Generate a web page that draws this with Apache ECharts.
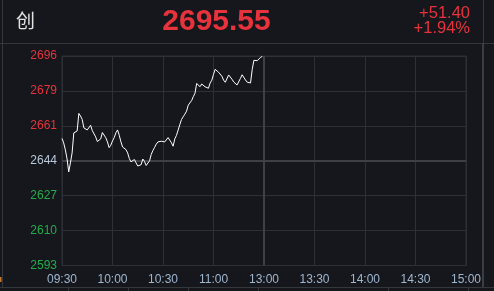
<!DOCTYPE html>
<html><head><meta charset="utf-8">
<script src="https://cdn.jsdelivr.net/npm/echarts@6/dist/echarts.min.js"></script>
<style>html,body{margin:0;padding:0;background:#15171c;}#c{width:494px;height:291px;}</style>
</head><body><div id="c"></div>
<script>
// ---- data ----
var indexName = '创';
var lastPrice = '2695.55';
var changeText = '+51.40';
var changePctText = '+1.94%';
var preClose = 2644.15;
var yMin = 2592.55;
var yMax = 2695.75;
var yTickLabels = ['2593', '2610', '2627', '2644', '2661', '2679', '2696'];
var xTickLabels = ['09:30', '10:00', '10:30', '11:00', '13:00', '13:30', '14:00', '14:30', '15:00'];
var totalMinutes = 240;
// minute-by-minute price from 09:30
var prices = [
  2655.15, 2652.94, 2649.49, 2645.06, 2638.67, 2643.10, 2648.02, 2657.86, 2657.71, 2658.84,
  2667.45, 2666.22, 2664.50, 2660.32, 2661.06, 2659.33, 2659.83, 2661.65, 2658.99, 2659.33,
  2655.89, 2653.63, 2654.22, 2654.91, 2658.05, 2657.61, 2655.50, 2653.43, 2650.62, 2651.81,
  2653.92, 2655.55, 2657.86, 2659.33, 2656.73, 2653.48, 2650.92, 2649.94, 2649.64, 2648.02,
  2645.21, 2643.59, 2644.23, 2644.77, 2643.10, 2641.57, 2640.93, 2642.21, 2645.01, 2643.83,
  2641.82, 2641.87, 2644.13, 2647.23, 2649.20, 2650.72, 2652.35, 2653.43, 2654.22, 2653.77,
  2652.94, 2653.43, 2654.27, 2655.55, 2654.61, 2653.04, 2651.31, 2654.91, 2656.63, 2659.28,
  2661.99, 2664.50, 2665.83, 2667.11, 2668.59, 2671.54, 2672.33, 2673.80, 2675.72, 2677.39,
  2682.22, 2682.46, 2680.64, 2681.97, 2681.13, 2680.59, 2679.81, 2679.86, 2682.46, 2683.84,
  2686.70, 2689.21, 2688.96, 2687.73, 2687.19, 2685.76, 2683.84, 2682.81, 2682.46, 2686.40,
  2686.74, 2684.28, 2682.96, 2682.96, 2681.48, 2682.36, 2684.73, 2686.50, 2686.60, 2683.94,
  2682.86, 2682.02, 2682.46, 2689.11, 2693.63, 2692.75, 2693.44, 2694.03, 2695.11, 2695.55
];
// ---- chart ----
var RED = '#e8323c', GREEN = '#1fae4a', NEUTRAL = '#b9c8da', AXISTXT = '#9fb6cf';
var GRIDC = '#2d3035', FRAME = '#34373c';
var chart = echarts.init(document.getElementById('c'), null, {renderer: 'canvas'});
var lineData = prices.map(function (p, i) { return [i, p]; });
chart.setOption({
  backgroundColor: '#15171c',
  animation: false,
  grid: {left: 62, top: 56, right: 28, bottom: 25.5, show: true, borderColor: GRIDC, borderWidth: 1, backgroundColor: 'transparent'},
  xAxis: {
    type: 'value', min: 0, max: totalMinutes, interval: 30,
    axisLine: {show: false}, axisTick: {show: false},
    splitLine: {show: true, lineStyle: {color: GRIDC, width: 1}},
    axisLabel: {
      margin: 8, color: AXISTXT, fontFamily: 'Liberation Sans', fontSize: 12,
      formatter: function (v) { return xTickLabels[Math.round(v / 30)]; }
    }
  },
  yAxis: [{
    type: 'value', min: yMin, max: yMax, show: false, splitLine: {show: false}
  }, {
    type: 'category', data: yTickLabels, boundaryGap: false, position: 'left',
    axisLine: {show: false}, axisTick: {show: false},
    splitLine: {show: true, lineStyle: {color: GRIDC, width: 1}},
    axisLabel: {
      margin: 5, fontFamily: 'Liberation Sans', fontSize: 12,
      color: function (v, i) { return i > 3 ? RED : (i < 3 ? GREEN : NEUTRAL); }
    }
  }],
  series: [{
    type: 'line', yAxisIndex: 0, data: lineData, showSymbol: false, symbol: 'none',
    lineStyle: {color: '#ffffff', width: 1}, silent: true, z: 5,
    markLine: {
      silent: true, symbol: 'none', label: {show: false},
      lineStyle: {color: '#3d4045', width: 2, type: 'solid'},
      data: [{yAxis: preClose}, {xAxis: 120}]
    }
  }],
  graphic: [
    {type: 'line', shape: {x1: 0, y1: 43.5, x2: 494, y2: 43.5}, style: {stroke: FRAME, lineWidth: 1}, silent: true},
    {type: 'line', shape: {x1: 2.5, y1: 0, x2: 2.5, y2: 287}, style: {stroke: FRAME, lineWidth: 1}, silent: true},
    {type: 'line', shape: {x1: 483.5, y1: 0, x2: 483.5, y2: 43}, style: {stroke: FRAME, lineWidth: 1}, silent: true},
    {type: 'line', shape: {x1: 483, y1: 43, x2: 483, y2: 287}, style: {stroke: '#3a3d42', lineWidth: 2}, silent: true},
    {type: 'line', shape: {x1: 0, y1: 287.5, x2: 494, y2: 287.5}, style: {stroke: FRAME, lineWidth: 1}, silent: true},
    {type: 'rect', shape: {x: 0, y: 277, width: 1.5, height: 5}, style: {fill: '#c8792b'}, silent: true},
    {type: 'text', left: 16, top: 11, style: {text: indexName, fill: '#e2e2e2', font: '19px "Noto Sans CJK SC"'}, silent: true},
    {type: 'text', x: 216.5, y: 22, style: {text: lastPrice, fill: RED, font: 'bold 30px "Liberation Sans"', textAlign: 'center', textVerticalAlign: 'middle'}, silent: true},
    {type: 'text', x: 470, y: 13.5, style: {text: changeText, fill: RED, font: '16.5px "Liberation Sans"', textAlign: 'right', textVerticalAlign: 'middle'}, silent: true},
    {type: 'text', x: 470, y: 28.5, style: {text: changePctText, fill: RED, font: '16.5px "Liberation Sans"', textAlign: 'right', textVerticalAlign: 'middle'}, silent: true}
  ].concat([68.5, 128.5, 188.5, 258.5, 388.5, 468.5].map(function (x) {
    return {type: 'line', shape: {x1: x, y1: 288, x2: x, y2: 291}, style: {stroke: FRAME, lineWidth: 1}, silent: true};
  }))
});
</script>
</body></html>
